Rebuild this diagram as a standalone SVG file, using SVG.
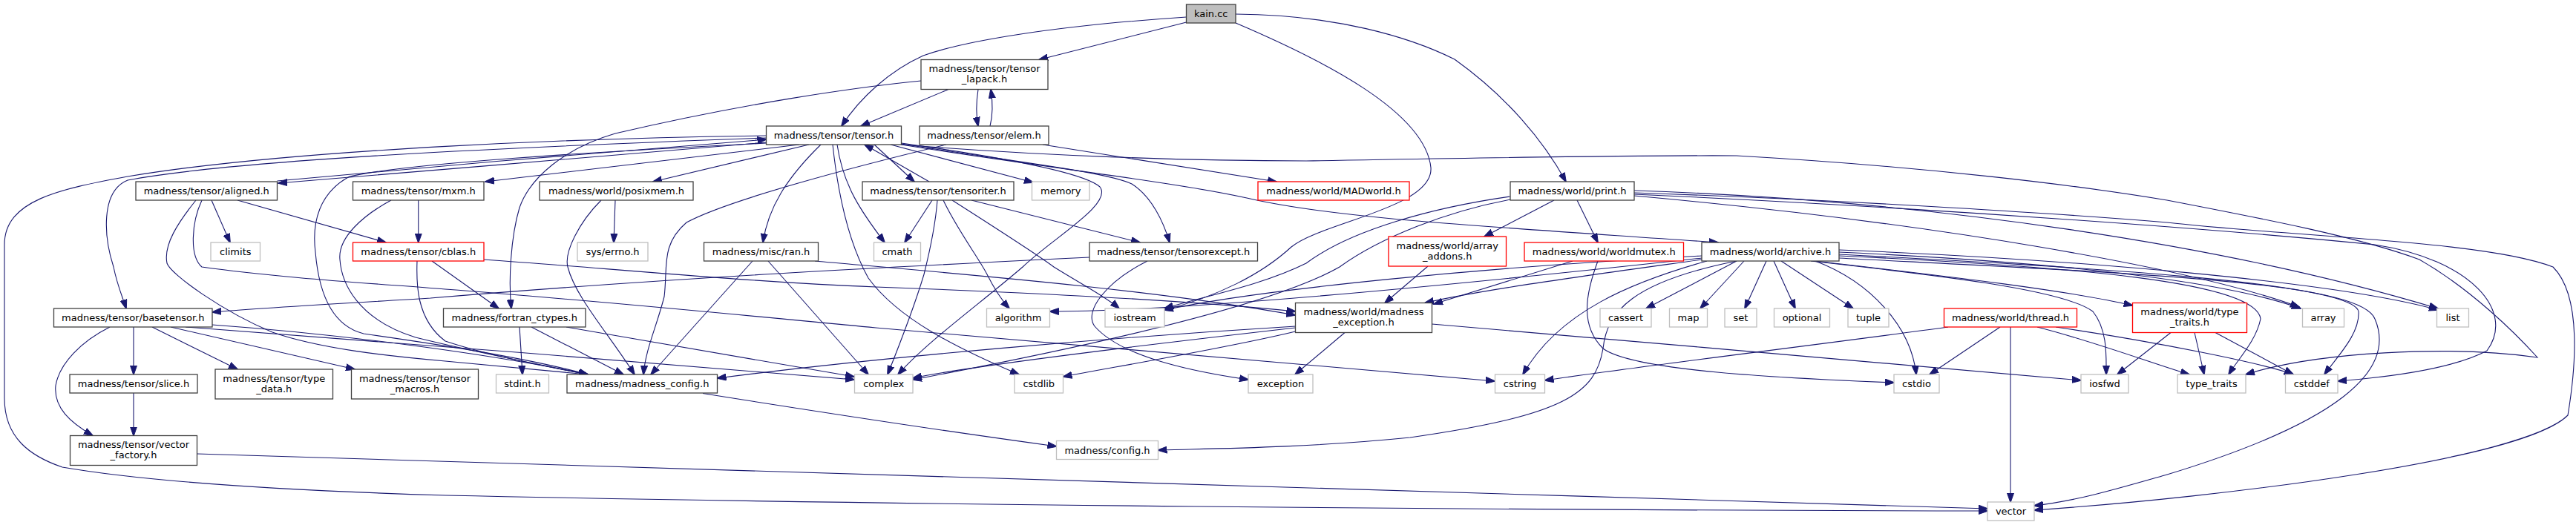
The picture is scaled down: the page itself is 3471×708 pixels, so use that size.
<svg xmlns="http://www.w3.org/2000/svg" width="3471" height="708" viewBox="0 0 3471 708">
<defs>
<marker id="ah" markerUnits="userSpaceOnUse" markerWidth="13" markerHeight="10" viewBox="0 0 13 10" refX="12" refY="5" orient="auto"><path d="M0,0.5 L13,5 L0,9.5 z" fill="#191970" stroke="#191970" stroke-width="1"/></marker>
<style>
.n rect{fill:#fff;stroke:#404040;stroke-width:1.3}
.g rect{fill:#fff;stroke:#bfbfbf;stroke-width:1.3}
.r rect{fill:#fff;stroke:#ff0000;stroke-width:1.3}
.k rect{fill:#bfbfbf;stroke:#404040;stroke-width:1.3}
text{font-family:"DejaVu Sans","Liberation Sans",sans-serif;font-size:13px;fill:#000;text-anchor:middle}
#edges path{fill:none;stroke:#191970;stroke-width:1.1;marker-end:url(#ah)}
</style>
</defs>
<rect width="3471" height="708" fill="#fff"/>
<g id="edges">
<path d="M1598.5,23 C1420,35 1300,55 1244,75 C1200,95 1160,130 1134,170"/>
<path d="M1598.5,30 L1400,80.5"/>
<path d="M1665,19 C1800,20 1900,50 1960,80 C2030,130 2080,190 2110,245"/>
<path d="M1665,31 C1780,80 1920,150 1928,226 C1932,280 1780,300 1740,333 C1700,370 1640,400 1569,418"/>
<path d="M1278,120.5 L1160,170"/>
<path d="M1318,120.5 C1315,140 1315,155 1318,170"/>
<path d="M1334,170 C1338,155 1338,140 1335,120.5"/>
<path d="M1241,109 C1150,118 1000,140 829,180 C760,200 714,240 700,280 C688,320 685,380 689,416"/>
<path d="M1032.5,192 C800,212 600,228 375,247"/>
<path d="M373.5,244 C600,223 800,206 1032.5,188"/>
<path d="M1077,195 L654,245"/>
<path d="M1090,195 L880,245"/>
<path d="M1106,195 C1060,240 1035,280 1028,327"/>
<path d="M1178,195 L1232,245"/>
<path d="M1252,245 L1165,195"/>
<path d="M1200,195 L1392,246"/>
<path d="M1128,195 C1136,250 1160,285 1192,327"/>
<path d="M1214.5,194 C1380,220 1490,232 1525,248 C1552,265 1568,300 1576,327"/>
<path d="M1032.5,186 C700,198 320,215 172,243 C135,258 140,320 153,360 C158,385 165,400 170,416"/>
<path d="M1032.5,193 C800,205 550,220 471,238 C430,260 420,300 425,340 C430,400 450,440 490,450 C560,460 700,480 792,505"/>
<path d="M1032.5,183 C800,186 400,200 172,238 C80,255 6,270 6,330 L6,537 C6,590 40,615 84,630 C200,650 400,662 600,668 C1200,681 2000,688 2678,689"/>
<path d="M1214.5,193 C1350,212 1460,232 1482,252 C1500,275 1420,320 1378,360 C1320,410 1250,460 1210,505"/>
<path d="M1122,195 C1130,270 1145,330 1170,375 C1210,430 1290,470 1373,505"/>
<path d="M1214.5,195 C1400,225 1580,245 1680,267 C1800,295 2000,305 2315,327"/>
<path d="M1214.5,195 C1400,210 1600,217 1760,217 C2000,213 2200,209 2340,210 C2600,225 2800,250 2920,270 C3050,295 3180,320 3260,350 C3330,390 3390,450 3419,482 C3300,465 3120,475 3026,505"/>
<path d="M1405,195 L1720,245"/>
<path d="M1275,195 C1150,225 980,270 925,300 C890,330 900,360 895,400 C885,440 870,470 867,505"/>
<path d="M285,270 L310,327"/>
<path d="M320,270 L520,327"/>
<path d="M264,270 C240,300 220,330 225,355 C230,370 300,420 367,448 C430,470 520,480 600,487 C680,494 740,500 792,505"/>
<path d="M272,270 C258,300 255,345 272,360 C380,375 500,382 600,390 C800,405 1000,425 1180,442 C1400,462 1600,480 1760,492 C1860,500 1950,508 2014,514"/>
<path d="M563.75,270 L563.75,327"/>
<path d="M527,270 C490,290 455,320 458,350 C460,380 480,430 560,455 C640,475 720,490 792,505"/>
<path d="M582,352 L672,416"/>
<path d="M562,352 C561,380 560,430 600,460 C660,480 740,495 792,505"/>
<path d="M652,350 C800,360 1000,380 1180,387 C1400,395 1600,405 1745.5,420"/>
<path d="M829,270 L827,327"/>
<path d="M810,270 C780,300 760,340 765,360 C775,400 820,450 855,505"/>
<path d="M1014,352 L877,505"/>
<path d="M1035,352 L1170,505"/>
<path d="M1098,352 C1300,370 1550,390 1745.5,425"/>
<path d="M1256,270 L1219,327"/>
<path d="M1263,270 C1260,310 1250,350 1245,370 C1230,420 1210,470 1196,505"/>
<path d="M1271,270 C1290,310 1320,350 1330,370 C1340,390 1350,405 1360,416"/>
<path d="M1283,270 C1330,300 1400,345 1420,360 C1460,385 1490,400 1508,416"/>
<path d="M1309,270 L1536,327"/>
<path d="M1468,347 C1200,360 900,375 580,402 C450,410 350,415 286,421"/>
<path d="M1546,352 C1490,380 1460,420 1475,440 C1510,480 1600,500 1682,512"/>
<path d="M180,441 L180,505"/>
<path d="M205,441 L320,498"/>
<path d="M230,441 L478,498"/>
<path d="M148,441 C110,460 80,490 75,520 C72,550 95,570 125,587.5"/>
<path d="M180,530 L180,587.5"/>
<path d="M286,438 C450,450 650,475 792,505"/>
<path d="M250,441 C500,460 900,490 1151,512"/>
<path d="M265.5,612 C800,625 1800,660 2678,686"/>
<path d="M700,441 L704,505"/>
<path d="M716,441 L840,505"/>
<path d="M763,441 C900,465 1050,490 1151,508"/>
<path d="M947,530.5 C1100,555 1300,585 1423.5,602"/>
<path d="M2094,270 L2000,319"/>
<path d="M2125,270 L2153,327"/>
<path d="M2035,265 C1930,280 1820,310 1760,355 C1700,385 1620,400 1569,416"/>
<path d="M2035,269 C1950,285 1860,320 1805,360 C1700,420 1400,480 1230,512"/>
<path d="M2202,257 C2600,270 3000,330 3285,416"/>
<path d="M2202,260 C2500,270 2800,290 2920,300 C3100,320 3350,325 3440,360 C3480,400 3470,500 3460,560 C3400,620 3000,670 2741,688"/>
<path d="M2202,262 C2600,280 3000,310 3200,330 C3330,350 3390,420 3351,473 C3300,500 3200,510 3150,514"/>
<path d="M2202,264 C2600,300 2950,360 3098,414"/>
<path d="M2478,340 C2800,355 3000,380 3100,416"/>
<path d="M2478,337 C2800,350 3150,380 3285,418"/>
<path d="M2478,345 C2800,360 3040,380 3046,430 C3040,460 3015,485 3003,505"/>
<path d="M2478,343 C2800,360 3170,380 3178,420 C3180,450 3150,480 3132,505"/>
<path d="M2478,348 C2900,370 3180,380 3200,430 C3230,500 3150,570 2920,640 C2850,660 2800,675 2741,682"/>
<path d="M2446,352 C2600,370 2780,390 2873.5,412"/>
<path d="M2440,352 C2600,370 2780,390 2820,420 C2840,445 2838,480 2838,505"/>
<path d="M1812,448.5 L1745,505"/>
<path d="M1745.5,442 C1500,470 1300,495 1230,510"/>
<path d="M1745.5,447 C1650,470 1500,495 1432.5,508"/>
<path d="M1929.5,437 C2200,460 2600,495 2804,513"/>
<path d="M1745.5,440 C1500,455 1200,480 966.5,510"/>
<path d="M1924,359 L1866,408.5"/>
<path d="M2119,352 L1932,410"/>
<path d="M2293,350 C2150,370 2000,390 1920,408.5"/>
<path d="M2153,352 C2135,400 2130,440 2160,470 C2200,500 2400,510 2552,516"/>
<path d="M2340,352 C2200,380 2165,420 2160,470 C2150,530 2110,560 1900,590 C1750,605 1620,605 1560.5,607"/>
<path d="M2300,352 C2200,380 2100,420 2052,505"/>
<path d="M2340,352 L2218,416"/>
<path d="M2350,352 L2291,416"/>
<path d="M2380,352 L2351,416"/>
<path d="M2390,352 L2419,416"/>
<path d="M2400,352 L2497,416"/>
<path d="M2446,352 C2520,380 2575,440 2582,505"/>
<path d="M2293,345 C2000,360 1700,390 1569,418"/>
<path d="M2293,348 C2000,380 1600,420 1414.5,420"/>
<path d="M2695,441 L2600,505"/>
<path d="M2709,441 L2709,677"/>
<path d="M2745,441 C2820,460 2900,490 2950,505"/>
<path d="M2770,441 C2900,460 3050,490 3090,505"/>
<path d="M2625,441 C2450,465 2200,495 2081.5,513"/>
<path d="M2925,448.5 L2853,505"/>
<path d="M2957,448.5 L2970,505"/>
<path d="M2985,448.5 L3090,505"/>
</g>
<g id="kain" class="k"><rect x="1598.5" y="6" width="66.5" height="25"/><text x="1631.75" y="23">kain.cc</text></g>
<g id="lapack" class="n"><rect x="1241" y="80.5" width="171" height="40"/><text x="1326.5" y="97">madness/tensor/tensor</text><text x="1326.5" y="111">_lapack.h</text></g>
<g id="tensor" class="n"><rect x="1032.5" y="170" width="182" height="25"/><text x="1123.5" y="187">madness/tensor/tensor.h</text></g>
<g id="elem" class="n"><rect x="1239" y="170" width="174" height="25"/><text x="1326" y="187">madness/tensor/elem.h</text></g>
<g id="aligned" class="n"><rect x="183" y="245" width="190.5" height="25"/><text x="278.25" y="262">madness/tensor/aligned.h</text></g>
<g id="mxm" class="n"><rect x="475.5" y="245" width="176.5" height="25"/><text x="563.75" y="262">madness/tensor/mxm.h</text></g>
<g id="posixmem" class="n"><rect x="727" y="245" width="207" height="25"/><text x="830.5" y="262">madness/world/posixmem.h</text></g>
<g id="tensoriter" class="n"><rect x="1162" y="245" width="204" height="25"/><text x="1264" y="262">madness/tensor/tensoriter.h</text></g>
<g id="memory" class="g"><rect x="1390.5" y="245" width="77.5" height="25"/><text x="1429.25" y="262">memory</text></g>
<g id="madworld" class="r"><rect x="1695" y="245" width="204" height="25"/><text x="1797" y="262">madness/world/MADworld.h</text></g>
<g id="print" class="n"><rect x="2035" y="245" width="167" height="25"/><text x="2118.5" y="262">madness/world/print.h</text></g>
<g id="climits" class="g"><rect x="284" y="327" width="66.5" height="25"/><text x="317.25" y="344">climits</text></g>
<g id="cblas" class="r"><rect x="475.5" y="327" width="176.5" height="25"/><text x="563.75" y="344">madness/tensor/cblas.h</text></g>
<g id="errno" class="g"><rect x="778" y="327" width="95" height="25"/><text x="825.5" y="344">sys/errno.h</text></g>
<g id="ran" class="n"><rect x="948.5" y="327" width="154" height="25"/><text x="1025.5" y="344">madness/misc/ran.h</text></g>
<g id="cmath" class="g"><rect x="1177.5" y="327" width="63" height="25"/><text x="1209" y="344">cmath</text></g>
<g id="tensorexcept" class="n"><rect x="1468" y="327" width="226.5" height="25"/><text x="1581.25" y="344">madness/tensor/tensorexcept.h</text></g>
<g id="arrayaddons" class="r"><rect x="1871" y="319" width="158.5" height="40"/><text x="1950.25" y="335.5">madness/world/array</text><text x="1950.25" y="349.5">_addons.h</text></g>
<g id="worldmutex" class="r"><rect x="2054" y="327" width="214.5" height="25"/><text x="2161.25" y="344">madness/world/worldmutex.h</text></g>
<g id="archive" class="n"><rect x="2293" y="327" width="185" height="25"/><text x="2385.5" y="344">madness/world/archive.h</text></g>
<g id="basetensor" class="n"><rect x="72.5" y="416" width="213.5" height="25"/><text x="179.25" y="433">madness/tensor/basetensor.h</text></g>
<g id="fortran" class="n"><rect x="597.5" y="416" width="191.5" height="25"/><text x="693.25" y="433">madness/fortran_ctypes.h</text></g>
<g id="algorithm" class="g"><rect x="1329.5" y="416" width="85" height="25"/><text x="1372" y="433">algorithm</text></g>
<g id="iostream" class="g"><rect x="1489" y="416" width="80" height="25"/><text x="1529" y="433">iostream</text></g>
<g id="mexc" class="n"><rect x="1745.5" y="408.5" width="184" height="40"/><text x="1837.5" y="425">madness/world/madness</text><text x="1837.5" y="439">_exception.h</text></g>
<g id="cassert" class="g"><rect x="2156" y="416" width="69" height="25"/><text x="2190.5" y="433">cassert</text></g>
<g id="map" class="g"><rect x="2249.5" y="416" width="51" height="25"/><text x="2275" y="433">map</text></g>
<g id="set" class="g"><rect x="2324" y="416" width="43" height="25"/><text x="2345.5" y="433">set</text></g>
<g id="optional" class="g"><rect x="2390.5" y="416" width="75" height="25"/><text x="2428" y="433">optional</text></g>
<g id="tuple" class="g"><rect x="2490" y="416" width="55" height="25"/><text x="2517.5" y="433">tuple</text></g>
<g id="thread" class="r"><rect x="2619.5" y="416" width="179" height="25"/><text x="2709" y="433">madness/world/thread.h</text></g>
<g id="wtypetraits" class="r"><rect x="2873.5" y="408.5" width="154" height="40"/><text x="2950.5" y="425">madness/world/type</text><text x="2950.5" y="439">_traits.h</text></g>
<g id="array" class="g"><rect x="3102.5" y="416" width="56" height="25"/><text x="3130.5" y="433">array</text></g>
<g id="list" class="g"><rect x="3283.5" y="416" width="43" height="25"/><text x="3305" y="433">list</text></g>
<g id="slice" class="n"><rect x="94" y="505" width="172" height="25"/><text x="180" y="522">madness/tensor/slice.h</text></g>
<g id="typedata" class="n"><rect x="290" y="498" width="158.5" height="40"/><text x="369.25" y="514.5">madness/tensor/type</text><text x="369.25" y="528.5">_data.h</text></g>
<g id="tmacros" class="n"><rect x="473.5" y="498" width="171" height="40"/><text x="559" y="514.5">madness/tensor/tensor</text><text x="559" y="528.5">_macros.h</text></g>
<g id="stdint" class="g"><rect x="668.5" y="505" width="71" height="25"/><text x="704" y="522">stdint.h</text></g>
<g id="mconfig" class="n"><rect x="764" y="505" width="202.5" height="25"/><text x="865.25" y="522">madness/madness_config.h</text></g>
<g id="complex" class="g"><rect x="1151.5" y="505" width="78.5" height="25"/><text x="1190.75" y="522">complex</text></g>
<g id="cstdlib" class="g"><rect x="1367" y="505" width="65.5" height="25"/><text x="1399.75" y="522">cstdlib</text></g>
<g id="exception" class="g"><rect x="1682" y="505" width="87" height="25"/><text x="1725.5" y="522">exception</text></g>
<g id="cstring" class="g"><rect x="2014.5" y="505" width="67" height="25"/><text x="2048" y="522">cstring</text></g>
<g id="cstdio" class="g"><rect x="2552" y="505" width="61" height="25"/><text x="2582.5" y="522">cstdio</text></g>
<g id="iosfwd" class="g"><rect x="2804" y="505" width="64" height="25"/><text x="2836" y="522">iosfwd</text></g>
<g id="typetraits" class="g"><rect x="2934" y="505" width="92" height="25"/><text x="2980" y="522">type_traits</text></g>
<g id="cstddef" class="g"><rect x="3079.5" y="505" width="70.5" height="25"/><text x="3114.75" y="522">cstddef</text></g>
<g id="vfactory" class="n"><rect x="94.5" y="587.5" width="171" height="40"/><text x="180" y="604">madness/tensor/vector</text><text x="180" y="618">_factory.h</text></g>
<g id="config" class="g"><rect x="1423.5" y="594.5" width="137" height="25"/><text x="1492" y="611.5">madness/config.h</text></g>
<g id="vector" class="g"><rect x="2678" y="677" width="63" height="25"/><text x="2709.5" y="694">vector</text></g>
</svg>
